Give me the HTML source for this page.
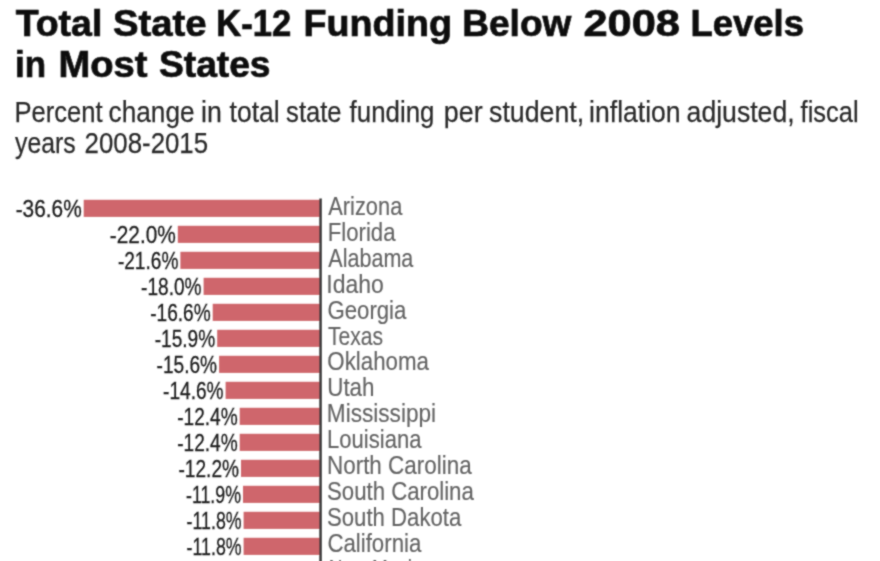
<!DOCTYPE html>
<html><head><meta charset="utf-8"><title>Total State K-12 Funding Below 2008 Levels in Most States</title>
<style>
html,body{margin:0;padding:0;background:#fff;}
body{width:880px;height:561px;overflow:hidden;position:relative;}
svg{position:absolute;left:0;top:0;display:block;}
text{font-family:"Liberation Sans",sans-serif;}
.t{font-weight:bold;font-size:36px;fill:#0c0c0c;stroke:#0c0c0c;stroke-width:0.7px;}
.s{font-size:29px;fill:#2b2b2b;stroke:#2b2b2b;stroke-width:0.25px;}
.v{font-size:23.5px;fill:#1e1e1e;stroke:#1e1e1e;stroke-width:0.3px;}
.n{font-size:26.5px;fill:#646464;stroke:#646464;stroke-width:0.15px;}
</style></head><body>
<svg width="880" height="561" viewBox="0 0 880 561">
<defs><filter id="soft" x="0" y="0" width="880" height="600" filterUnits="userSpaceOnUse"><feConvolveMatrix order="3" kernelMatrix="1 2.5 1 2.5 10 2.5 1 2.5 1" divisor="24" edgeMode="duplicate" preserveAlpha="false"/></filter></defs>
<rect width="880" height="561" fill="#fff"/>
<g filter="url(#soft)">
<text class="t" y="36.3"><tspan x="15.7" textLength="86.6" lengthAdjust="spacingAndGlyphs">Total</tspan> <tspan x="113.0" textLength="93.5" lengthAdjust="spacingAndGlyphs">State</tspan> <tspan x="216.2" textLength="75.0" lengthAdjust="spacingAndGlyphs">K-12</tspan> <tspan x="303.5" textLength="148.5" lengthAdjust="spacingAndGlyphs">Funding</tspan> <tspan x="462.3" textLength="109.0" lengthAdjust="spacingAndGlyphs">Below</tspan> <tspan x="583.5" textLength="96.5" lengthAdjust="spacingAndGlyphs">2008</tspan> <tspan x="690.5" textLength="113.5" lengthAdjust="spacingAndGlyphs">Levels</tspan></text>
<text class="t" y="77.3"><tspan x="15.0" textLength="31.0" lengthAdjust="spacingAndGlyphs">in</tspan> <tspan x="58.5" textLength="89.0" lengthAdjust="spacingAndGlyphs">Most</tspan> <tspan x="159.0" textLength="111.5" lengthAdjust="spacingAndGlyphs">States</tspan></text>
<text class="s" y="122.0"><tspan x="14.6" textLength="88.0" lengthAdjust="spacingAndGlyphs">Percent</tspan> <tspan x="108.6" textLength="86.0" lengthAdjust="spacingAndGlyphs">change</tspan> <tspan x="201.1" textLength="20.8" lengthAdjust="spacingAndGlyphs">in</tspan> <tspan x="229.6" textLength="50.0" lengthAdjust="spacingAndGlyphs">total</tspan> <tspan x="286.1" textLength="55.5" lengthAdjust="spacingAndGlyphs">state</tspan> <tspan x="349.6" textLength="84.8" lengthAdjust="spacingAndGlyphs">funding</tspan> <tspan x="443.8" textLength="38.8" lengthAdjust="spacingAndGlyphs">per</tspan> <tspan x="489.1" textLength="95.0" lengthAdjust="spacingAndGlyphs">student,</tspan> <tspan x="589.1" textLength="91.5" lengthAdjust="spacingAndGlyphs">inflation</tspan> <tspan x="686.6" textLength="108.0" lengthAdjust="spacingAndGlyphs">adjusted,</tspan> <tspan x="800.6" textLength="58.0" lengthAdjust="spacingAndGlyphs">fiscal</tspan></text>
<text class="s" y="153.3"><tspan x="15.1" textLength="60.5" lengthAdjust="spacingAndGlyphs">years</tspan> <tspan x="84.6" textLength="123.5" lengthAdjust="spacingAndGlyphs">2008-2015</tspan></text>
<rect x="83.7" y="199.8" width="236.3" height="17.1" fill="#cf666c"/>
<text class="v" x="15.7" y="217.4" textLength="66.0" lengthAdjust="spacingAndGlyphs">-36.6%</text>
<text class="n" x="328.27" y="214.75" textLength="74.01" lengthAdjust="spacingAndGlyphs">Arizona</text>
<rect x="177.8" y="225.8" width="142.2" height="17.1" fill="#cf666c"/>
<text class="v" x="109.8" y="243.4" textLength="66.0" lengthAdjust="spacingAndGlyphs">-22.0%</text>
<text class="n" x="327.76" y="240.70" textLength="67.74" lengthAdjust="spacingAndGlyphs">Florida</text>
<rect x="180.4" y="251.8" width="139.6" height="17.1" fill="#cf666c"/>
<text class="v" x="117.9" y="269.4" textLength="60.5" lengthAdjust="spacingAndGlyphs">-21.6%</text>
<text class="n" x="328.30" y="266.65" textLength="85.00" lengthAdjust="spacingAndGlyphs">Alabama</text>
<rect x="203.6" y="277.8" width="116.4" height="17.1" fill="#cf666c"/>
<text class="v" x="141.1" y="295.4" textLength="60.5" lengthAdjust="spacingAndGlyphs">-18.0%</text>
<text class="n" x="326.30" y="292.60" textLength="57.60" lengthAdjust="spacingAndGlyphs">Idaho</text>
<rect x="212.7" y="303.8" width="107.3" height="17.1" fill="#cf666c"/>
<text class="v" x="150.2" y="321.4" textLength="60.5" lengthAdjust="spacingAndGlyphs">-16.6%</text>
<text class="n" x="327.42" y="318.55" textLength="79.00" lengthAdjust="spacingAndGlyphs">Georgia</text>
<rect x="217.2" y="329.8" width="102.8" height="17.1" fill="#cf666c"/>
<text class="v" x="154.7" y="347.4" textLength="60.5" lengthAdjust="spacingAndGlyphs">-15.9%</text>
<text class="n" x="327.97" y="344.50" textLength="55.06" lengthAdjust="spacingAndGlyphs">Texas</text>
<rect x="219.1" y="355.8" width="100.9" height="17.1" fill="#cf666c"/>
<text class="v" x="156.6" y="373.4" textLength="60.5" lengthAdjust="spacingAndGlyphs">-15.6%</text>
<text class="n" x="327.32" y="370.45" textLength="101.61" lengthAdjust="spacingAndGlyphs">Oklahoma</text>
<rect x="225.6" y="381.8" width="94.4" height="17.1" fill="#cf666c"/>
<text class="v" x="163.1" y="399.4" textLength="60.5" lengthAdjust="spacingAndGlyphs">-14.6%</text>
<text class="n" x="327.24" y="396.40" textLength="47.22" lengthAdjust="spacingAndGlyphs">Utah</text>
<rect x="239.7" y="407.8" width="80.3" height="17.1" fill="#cf666c"/>
<text class="v" x="177.2" y="425.4" textLength="60.5" lengthAdjust="spacingAndGlyphs">-12.4%</text>
<text class="n" x="326.87" y="422.35" textLength="109.19" lengthAdjust="spacingAndGlyphs">Mississippi</text>
<rect x="239.7" y="433.8" width="80.3" height="17.1" fill="#cf666c"/>
<text class="v" x="177.2" y="451.4" textLength="60.5" lengthAdjust="spacingAndGlyphs">-12.4%</text>
<text class="n" x="327.02" y="448.30" textLength="94.45" lengthAdjust="spacingAndGlyphs">Louisiana</text>
<rect x="241.0" y="459.8" width="79.0" height="17.1" fill="#cf666c"/>
<text class="v" x="178.5" y="477.4" textLength="60.5" lengthAdjust="spacingAndGlyphs">-12.2%</text>
<text class="n" x="327.00" y="474.25" textLength="144.62" lengthAdjust="spacingAndGlyphs">North Carolina</text>
<rect x="243.0" y="485.8" width="77.0" height="17.1" fill="#cf666c"/>
<text class="v" x="186.0" y="503.4" textLength="55.0" lengthAdjust="spacingAndGlyphs">-11.9%</text>
<text class="n" x="326.99" y="500.20" textLength="146.83" lengthAdjust="spacingAndGlyphs">South Carolina</text>
<rect x="243.6" y="511.8" width="76.4" height="17.1" fill="#cf666c"/>
<text class="v" x="186.6" y="529.4" textLength="55.0" lengthAdjust="spacingAndGlyphs">-11.8%</text>
<text class="n" x="327.00" y="526.15" textLength="134.30" lengthAdjust="spacingAndGlyphs">South Dakota</text>
<rect x="243.6" y="537.8" width="76.4" height="17.1" fill="#cf666c"/>
<text class="v" x="186.6" y="555.4" textLength="55.0" lengthAdjust="spacingAndGlyphs">-11.8%</text>
<text class="n" x="327.39" y="552.10" textLength="93.94" lengthAdjust="spacingAndGlyphs">California</text>
<rect x="244.3" y="563.8" width="75.7" height="17.1" fill="#cf666c"/>
<text class="v" x="187.3" y="581.4" textLength="55.0" lengthAdjust="spacingAndGlyphs">-11.7%</text>
<text class="n" x="328.80" y="578.05" textLength="103.20" lengthAdjust="spacingAndGlyphs">New Mexico</text>
<rect x="319.3" y="198.5" width="2.5" height="370" fill="#3a3a3a"/>
</g></svg></body></html>
